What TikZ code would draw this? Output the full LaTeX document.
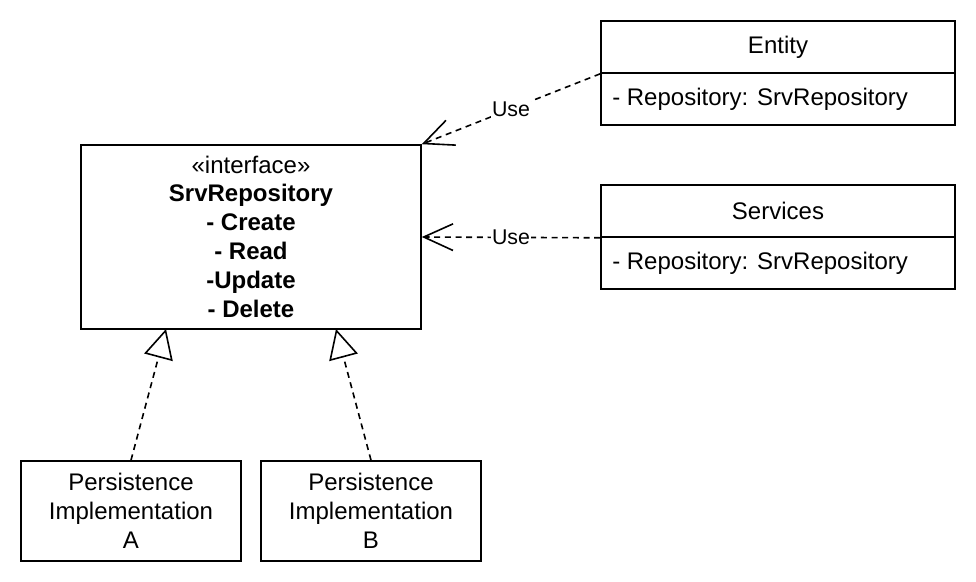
\documentclass[tikz,border=0pt]{standalone}
\usepackage{fontspec}
\setmainfont{Liberation Sans}
\usetikzlibrary{arrows.meta}
\begin{document}
\begin{tikzpicture}[x=0.75pt,y=-0.75pt,
  box/.style={draw,line width=1.2pt,inner sep=0pt,font=\fontsize{18}{21.6}\selectfont,align=center},
  txt/.style={inner sep=0pt,font=\fontsize{18}{21.6}\selectfont},
  uselink/.style={draw,line width=1.2pt,dash pattern=on 4.5pt off 3.5pt,-{Straight Barb[length=22pt,width=20pt,line width=1.2pt]}},
  implink/.style={draw,line width=1.2pt,dash pattern=on 4.5pt off 3.5pt,-{Triangle[open,length=22pt,width=22pt,line width=1.2pt]}},
  lbl/.style={fill=white,inner sep=1pt,font=\fontsize{16}{19}\selectfont}]
\useasboundingbox (0,0) rectangle (976,582);
% Entity
\node[box,minimum width=265.5pt,minimum height=39pt] (eh) at (778,47) {Entity};
\node[box,minimum width=265.5pt,minimum height=39pt] (ea) at (778,99) {};
\node[txt,anchor=west] (eat) at (612,99) {- Repository: SrvRepository};
% Services
\node[box,minimum width=265.5pt,minimum height=39pt] (sh) at (778,211) {Services};
\node[box,minimum width=265.5pt,minimum height=39pt] (sa) at (778,263) {};
\node[txt,anchor=west] (sat) at (612,263) {- Repository: SrvRepository};
% Interface
\node[box,minimum width=255pt,minimum height=138pt] (iface) at (251,237) {};
\node[txt,align=center] (ifacet) at (251,236.5) {«interface»\\\textbf{SrvRepository}\\\textbf{- Create}\\\textbf{- Read}\\\textbf{-Update}\\\textbf{- Delete}};
% Implementations
\node[box,minimum width=165pt,minimum height=75pt] (pa) at (131,511) {Persistence\\Implementation\\A};
\node[box,minimum width=165pt,minimum height=75pt] (pb) at (371,511) {Persistence\\Implementation\\B};
% connectors
\coordinate (ta) at (166,329);
\coordinate (tb) at (336,329);
\draw[uselink] (eh.south west) -- node[lbl] (u1) {Use} (iface.north east);
\draw[uselink] (sh.south west) -- node[lbl] (u2) {Use} (iface.east);
\draw[implink] (pa.north) -- (ta);
\draw[implink] (pb.north) -- (tb);
\end{tikzpicture}
\end{document}
